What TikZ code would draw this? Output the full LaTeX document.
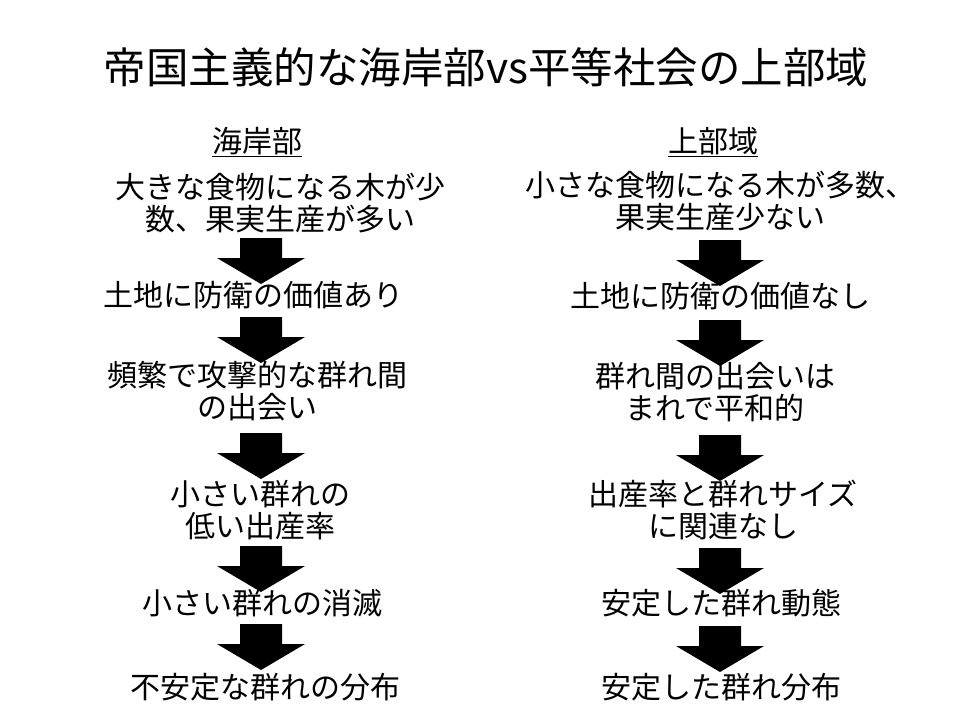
\documentclass[tikz,border=0pt]{standalone}
\usepackage{fontspec}
\setmainfont{Noto Sans CJK JP}
\usepackage{tikz}
\usetikzlibrary{positioning}

\tikzset{
  stage/.style={align=center,inner sep=0pt,font=\fontsize{30}{32}\selectfont},
  heading/.style={inner sep=0pt,font=\fontsize{30}{32}\selectfont},
  downarrow/.pic={\fill[black] (-21,0) -- (21,0) -- (21,20) -- (44,20) -- (0,46) -- (-44,20) -- (-21,20) -- cycle;}
}

\begin{document}
\begin{tikzpicture}[x=1pt,y=-1pt]
  \useasboundingbox[fill=white] (0,0) rectangle (960,720);

  % title
  \node[inner sep=0pt,font=\fontsize{42.5}{46}\selectfont] (title) at (486,67) {帝国主義的な海岸部vs平等社会の上部域};

  % arrows, left and right
  \foreach \y in {238,317,433,546,624} \pic at (261,\y) {downarrow};
  \foreach \y in {240,320,435,548,626} \pic at (720,\y) {downarrow};

  % left column
  \node[heading] (coast) at (257,142) {\underline{海岸部}};
  \node[stage] (coast1) at (280,203) {大きな食物になる木が少\\数、果実生産が多い};
  \node[stage] (coast2) at (253,295) {土地に防衛の価値あり};
  \node[stage] (coast3) at (257,391) {頻繁で攻撃的な群れ間\\の出会い};
  \node[stage] (coast4) at (260,510) {小さい群れの\\低い出産率};
  \node[stage] (coast5) at (262,603) {小さい群れの消滅};
  \node[stage] (coast6) at (265,687) {不安定な群れの分布};

  % right column
  \node[heading] (upland) at (713,142) {\underline{上部域}};
  \node[stage] (upland1) at (720,201) {小さな食物になる木が多数、\\果実生産少ない};
  \node[stage] (upland2) at (720,296) {土地に防衛の価値なし};
  \node[stage] (upland3) at (715,392) {群れ間の出会いは\\まれで平和的};
  \node[stage] (upland4) at (723,510) {出産率と群れサイズ\\に関連なし};
  \node[stage] (upland5) at (721,603) {安定した群れ動態};
  \node[stage] (upland6) at (721,687) {安定した群れ分布};
\end{tikzpicture}
\end{document}
